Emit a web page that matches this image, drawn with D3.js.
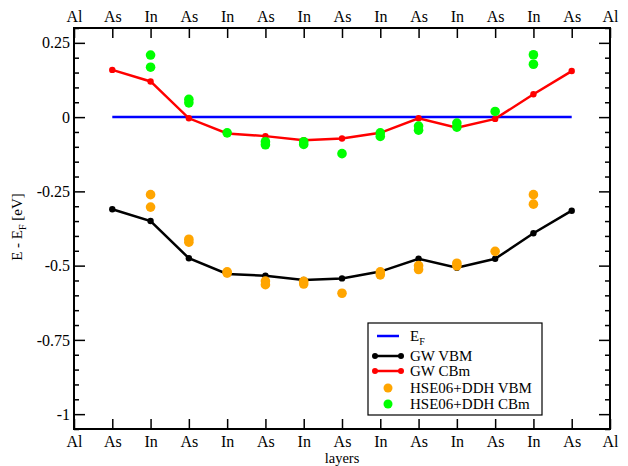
<!DOCTYPE html>
<html>
<head>
<meta charset="utf-8">
<script src="https://cdn.jsdelivr.net/npm/d3@7"></script>
<style>
  body { margin: 0; background: #fff; }
  svg, svg text { font-family: "Liberation Serif", Tinos, "Times New Roman", Times, "DejaVu Serif", serif; }
</style>
</head>
<body>
<svg id="chart" width="628" height="466"></svg>
<script>
// layer labels along the x axis (index = position)
const layers = ['Al', 'As', 'In', 'As', 'In', 'As', 'In', 'As', 'In', 'As', 'In', 'As', 'In', 'As', 'Al'];
const positions = [1, 2, 3, 4, 5, 6, 7, 8, 9, 10, 11, 12, 13];

const gwVBM = [-0.310, -0.350, -0.475, -0.528, -0.534, -0.548, -0.543, -0.520, -0.477, -0.507, -0.477, -0.391, -0.315];
const gwCBm = [0.159, 0.120, -0.004, -0.055, -0.064, -0.078, -0.072, -0.053, -0.004, -0.036, -0.006, 0.077, 0.155];

// HSE06+DDH points: [position, value]
const hseVBM = [
  [2, -0.261], [2, -0.303], [3, -0.411], [3, -0.421], [4, -0.521], [4, -0.525],
  [5, -0.552], [5, -0.564], [6, -0.553], [6, -0.562], [7, -0.593],
  [8, -0.521], [8, -0.531], [9, -0.500], [9, -0.513], [10, -0.492], [10, -0.501],
  [11, -0.452], [12, -0.261], [12, -0.293]
];
const hseCBm = [
  [2, 0.209], [2, 0.168], [3, 0.060], [3, 0.048], [4, -0.053],
  [5, -0.083], [5, -0.093], [6, -0.083], [6, -0.092], [7, -0.123],
  [8, -0.053], [8, -0.065], [9, -0.030], [9, -0.044], [10, -0.020], [10, -0.034],
  [11, 0.019], [12, 0.210], [12, 0.178]
];

const fermi = 0;
const yTicks = [0.25, 0, -0.25, -0.5, -0.75, -1];

const FONT = '"Liberation Serif", Tinos, "Times New Roman", Times, serif';

const svg = d3.select('#chart'),
  margin = { left: 74, right: 18, top: 28, bottom: 37 },
  width = 628 - margin.left - margin.right,
  height = 466 - margin.top - margin.bottom;

const g = svg.append('g').attr('transform', 'translate(' + margin.left + ',' + margin.top + ')');

const x = d3.scaleLinear().domain([0, 14]).range([0, width]);
const y = d3.scaleLinear().domain([-1.05, 0.30]).range([height, 0]);

const fmt = d => d === 0 ? '0' : String(d);

// frame
g.append('rect')
  .attr('width', width).attr('height', height)
  .attr('fill', 'none').attr('stroke', '#000').attr('stroke-width', 2);

// x axes (bottom and top), ticks inward
const xIdx = d3.range(0, 15);
g.append('g').attr('transform', 'translate(0,' + height + ')')
  .call(d3.axisBottom(x).tickValues(xIdx).tickSizeInner(-10).tickSizeOuter(0).tickPadding(7)
    .tickFormat(i => layers[i]));
g.append('g')
  .call(d3.axisTop(x).tickValues(xIdx).tickSizeInner(-10).tickSizeOuter(0).tickPadding(6)
    .tickFormat(i => layers[i]));

// y axes, major + minor
const minor = d3.range(-1.05, 0.3001, 0.05).map(v => +v.toFixed(2)).filter(v => !yTicks.includes(v));
g.append('g')
  .call(d3.axisLeft(y).tickValues(yTicks).tickSizeInner(-11).tickSizeOuter(0).tickPadding(4).tickFormat(fmt));
g.append('g')
  .call(d3.axisLeft(y).tickValues(minor).tickSizeInner(-5).tickSizeOuter(0).tickFormat(''));
g.append('g').attr('transform', 'translate(' + width + ',0)')
  .call(d3.axisRight(y).tickValues(yTicks).tickSizeInner(-11).tickSizeOuter(0).tickFormat(''));
g.append('g').attr('transform', 'translate(' + width + ',0)')
  .call(d3.axisRight(y).tickValues(minor).tickSizeInner(-5).tickSizeOuter(0).tickFormat(''));

g.selectAll('.domain').remove();
g.selectAll('g').attr('font-family', FONT);
g.selectAll('.tick line').attr('stroke', '#000').attr('stroke-width', 1.5);
g.selectAll('.tick text').attr('fill', '#000').attr('font-size', 16);

// axis titles
g.append('text')
  .attr('x', width / 2).attr('y', height + 34)
  .attr('text-anchor', 'middle').attr('font-family', FONT).attr('font-size', 14.5).text('layers');

const yt = svg.append('text')
  .attr('transform', 'translate(22,' + (margin.top + y(-0.37)) + ') rotate(-90)')
  .attr('text-anchor', 'middle').attr('font-family', FONT).attr('font-size', 15);
yt.append('tspan').text('E - E');
yt.append('tspan').attr('dy', 4).attr('font-size', 10).text('F');
yt.append('tspan').attr('dy', -4).text(' [eV]');

// Fermi level
g.append('line')
  .attr('x1', x(1)).attr('x2', x(13))
  .attr('y1', y(fermi)).attr('y2', y(fermi))
  .attr('stroke', '#0000ff').attr('stroke-width', 2.5);

const line = d3.line().x(d => x(d[0])).y(d => y(d[1]));

function drawGW(vals, color) {
  const pts = positions.map((p, i) => [p, vals[i]]);
  g.append('path').datum(pts)
    .attr('d', line).attr('fill', 'none')
    .attr('stroke', color).attr('stroke-width', 2.5);
  g.selectAll(null).data(pts).enter().append('circle')
    .attr('cx', d => x(d[0])).attr('cy', d => y(d[1]))
    .attr('r', 3.2).attr('fill', color);
}

function drawHSE(pts, color) {
  g.selectAll(null).data(pts).enter().append('circle')
    .attr('cx', d => x(d[0])).attr('cy', d => y(d[1]))
    .attr('r', 4.8).attr('fill', color);
}

drawGW(gwVBM, '#000000');
drawGW(gwCBm, '#ff0000');
drawHSE(hseVBM, '#ffa500');
drawHSE(hseCBm, '#00ff00');

// legend
const lg = svg.append('g').attr('transform', 'translate(368,323)').attr('font-family', FONT);
lg.append('rect').attr('width', 174).attr('height', 92)
  .attr('fill', '#fff').attr('stroke', '#000').attr('stroke-width', 1.2);

const legendItems = [
  { name: 'E', sub: 'F', color: '#0000ff', type: 'line', dy: 13 },
  { name: 'GW VBM', color: '#000000', type: 'linept', dy: 33 },
  { name: 'GW CBm', color: '#ff0000', type: 'linept', dy: 48 },
  { name: 'HSE06+DDH VBM', color: '#ffa500', type: 'pt', dy: 65 },
  { name: 'HSE06+DDH CBm', color: '#00ff00', type: 'pt', dy: 81 }
];

legendItems.forEach(function (d) {
  const row = lg.append('g').attr('transform', 'translate(0,' + d.dy + ')');
  if (d.type === 'line' || d.type === 'linept') {
    row.append('line').attr('x1', d.type === 'line' ? 9 : 7).attr('x2', d.type === 'line' ? 31 : 33)
      .attr('stroke', d.color).attr('stroke-width', 2.5);
  }
  if (d.type === 'linept') {
    row.append('circle').attr('cx', 7).attr('r', 3).attr('fill', d.color);
    row.append('circle').attr('cx', 33).attr('r', 3).attr('fill', d.color);
  }
  if (d.type === 'pt') {
    row.append('circle').attr('cx', 20).attr('r', 4.5).attr('fill', d.color);
  }
  const t = row.append('text').attr('x', 42).attr('dy', '0.33em').attr('font-size', 15);
  t.append('tspan').text(d.name);
  if (d.sub) t.append('tspan').attr('dy', 4).attr('font-size', 10).text(d.sub);
});
</script>
</body>
</html>
